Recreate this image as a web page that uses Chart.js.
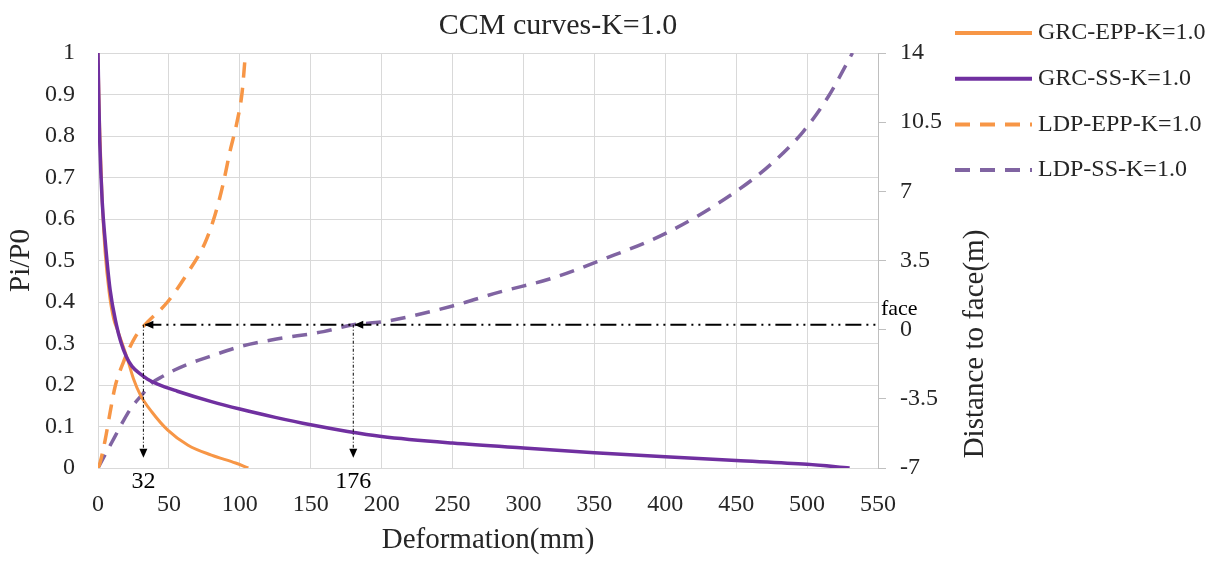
<!DOCTYPE html>
<html lang="en">
<head>
    <meta charset="UTF-8">
    <title>CCM curves-K=1.0</title>
    <style>
        body {
            margin: 0;
            background: #ffffff;
        }
        .wrap {
            width: 1219px;
            height: 562px;
            position: relative;
        }
    </style>
</head>
<body>

<div class="wrap">
    <canvas id="ccm"></canvas>
</div>

<script src="https://cdn.jsdelivr.net/npm/chart.js"></script>
<script>
    // GRC curves (left axis, Pi/P0)
    const grcEppX = [0, 1.2, 3, 5, 8, 11, 14, 21, 25, 30, 38, 49, 63.5, 80, 97, 106];
    const grcEppY = [1, 0.82, 0.64, 0.52, 0.42, 0.36, 0.33, 0.26, 0.215, 0.175, 0.135, 0.092, 0.055, 0.031, 0.012, 0];

    const grcSsX = [0, 0.5, 1.2, 3, 5, 8.5, 13, 16, 20, 24, 30, 35, 42, 56, 80, 100, 125, 150, 176, 200, 250, 300, 350, 400, 450, 500, 530];
    const grcSsY = [1, 0.9, 0.79, 0.64, 0.55, 0.43, 0.345, 0.305, 0.268, 0.245, 0.226, 0.214, 0.202, 0.185, 0.16, 0.142, 0.122, 0.104, 0.088, 0.076, 0.06, 0.048, 0.037, 0.027, 0.018, 0.009, 0];

    // LDP curves (right axis, distance to face in m)
    const ldpEppX = [0, 1.4, 5, 8.5, 12, 17.6, 26, 33, 49, 63.5, 75.5, 82.5, 88, 93, 98, 101.6, 104];
    const ldpEppY = [-7, -6.75, -5.6, -4.2, -2.9, -1.7, -0.4, 0.24, 1.4, 2.9, 4.4, 5.8, 7.3, 9.0, 10.5, 12.0, 14];

    const ldpSsX = [0, 6, 12, 18, 24, 31, 38, 46, 54, 65, 78, 99, 124, 159, 180, 201, 250, 283, 320, 354, 401, 448, 475, 497, 515, 532];
    const ldpSsY = [-7, -6.2, -5.4, -4.6, -3.9, -3.3, -2.7, -2.35, -2.04, -1.7, -1.38, -0.88, -0.5, -0.1, 0.25, 0.4, 1.2, 1.9, 2.6, 3.5, 4.9, 6.9, 8.4, 10, 11.8, 14];

    const seriesNames = ['GRC-EPP-K=1.0', 'GRC-SS-K=1.0', 'LDP-EPP-K=1.0', 'LDP-SS-K=1.0'];

    // face marks: where the LDP curves cross the face
    const faceLevel = 0.25;          // right axis value of the face line
    const faceArrowX = [32, 180];    // deformation where arrows drop
    const faceLabels = ['32', '176'];
    const arrowBottom = 0.025;       // left axis value where the drop arrows end

    const serif = "'Liberation Serif', 'Times New Roman', serif";
    Chart.defaults.font.family = serif;
    Chart.defaults.color = '#262626';

    function pts(xs, ys) {
        return xs.map((x, i) => ({ x: x, y: ys[i] }));
    }

    function arrowHead(ctx, x, y, dir) {
        // small filled triangle, tip at (x, y)
        ctx.beginPath();
        if (dir === 'left') {
            ctx.moveTo(x, y);
            ctx.lineTo(x + 9, y - 4);
            ctx.lineTo(x + 9, y + 4);
        } else {
            ctx.moveTo(x, y);
            ctx.lineTo(x - 4, y - 9);
            ctx.lineTo(x + 4, y - 9);
        }
        ctx.closePath();
        ctx.fill();
    }

    const extras = {
        id: 'extras',
        afterDatasetsDraw(chart) {
            const { ctx, chartArea: a, scales } = chart;
            const x = scales.x, y = scales.y, y2 = scales.y2;
            ctx.save();
            ctx.fillStyle = '#000';
            ctx.strokeStyle = '#000';

            // face line (dash dot dot)
            const fy = y2.getPixelForValue(faceLevel);
            const x0 = x.getPixelForValue(faceArrowX[0]);
            ctx.lineWidth = 2;
            ctx.setLineDash([16, 5, 2, 5, 2, 5]);
            ctx.beginPath();
            ctx.moveTo(x0 + 2, fy);
            ctx.lineTo(a.right, fy);
            ctx.stroke();
            ctx.setLineDash([]);

            const yb = y.getPixelForValue(arrowBottom);
            faceArrowX.forEach((v, i) => {
                const px = x.getPixelForValue(v);
                arrowHead(ctx, px + 1, fy, 'left');
                ctx.lineWidth = 1;
                ctx.setLineDash([3, 2, 1, 2]);
                ctx.beginPath();
                ctx.moveTo(px, fy);
                ctx.lineTo(px, yb - 8);
                ctx.stroke();
                ctx.setLineDash([]);
                arrowHead(ctx, px, yb, 'down');

                ctx.font = '24px ' + serif;
                ctx.textAlign = 'center';
                ctx.textBaseline = 'middle';
                ctx.fillText(faceLabels[i], px, a.bottom + 14);
            });

            ctx.font = '22px ' + serif;
            ctx.textAlign = 'left';
            ctx.textBaseline = 'middle';
            ctx.fillText('face', a.right + 3, fy - 16);
            ctx.restore();
        },
        afterDraw(chart) {
            const { ctx, chartArea: a } = chart;
            ctx.save();
            ctx.fillStyle = '#262626';

            // title
            ctx.font = '30px ' + serif;
            ctx.textAlign = 'center';
            ctx.textBaseline = 'middle';
            ctx.fillText('CCM curves-K=1.0', 558, 26);

            // right axis title, reads bottom to top
            ctx.save();
            ctx.translate(a.right + 97, 344);
            ctx.rotate(-Math.PI / 2);
            ctx.font = '29px ' + serif;
            ctx.fillText('Distance to face(m)', 0, 0);
            ctx.restore();

            // legend
            chart.data.datasets.forEach((ds, i) => {
                const ly = 33 + i * 45.7;
                ctx.strokeStyle = ds.borderColor;
                ctx.lineWidth = 4;
                ctx.setLineDash(ds.borderDash || []);
                ctx.beginPath();
                ctx.moveTo(955, ly);
                ctx.lineTo(1032, ly);
                ctx.stroke();
                ctx.setLineDash([]);
                ctx.font = '24px ' + serif;
                ctx.textAlign = 'left';
                ctx.textBaseline = 'middle';
                ctx.fillStyle = '#262626';
                ctx.fillText(seriesNames[i], 1038, ly);
            });
            ctx.restore();
        }
    };

    const ctx = document.getElementById('ccm').getContext('2d');
    const chart = new Chart(ctx, {
        type: 'line',
        data: {
            datasets: [
                {
                    label: seriesNames[0],
                    data: pts(grcEppX, grcEppY),
                    yAxisID: 'y',
                    borderColor: '#f79646',
                    borderWidth: 3,
                    order: 3
                },
                {
                    label: seriesNames[1],
                    data: pts(grcSsX, grcSsY),
                    yAxisID: 'y',
                    borderColor: '#7030a0',
                    borderWidth: 3.5,
                    order: 1
                },
                {
                    label: seriesNames[2],
                    data: pts(ldpEppX, ldpEppY),
                    yAxisID: 'y2',
                    borderColor: '#f79646',
                    borderWidth: 3.5,
                    borderDash: [15, 10],
                    order: 2
                },
                {
                    label: seriesNames[3],
                    data: pts(ldpSsX, ldpSsY),
                    yAxisID: 'y2',
                    borderColor: '#8064a2',
                    borderWidth: 3.5,
                    borderDash: [15, 10],
                    order: 4
                }
            ]
        },
        options: {
            responsive: true,
            maintainAspectRatio: false,
            animation: false,
            layout: {
                padding: { top: 53, right: 221, left: 0, bottom: 0 }
            },
            elements: {
                point: { radius: 0 },
                line: { cubicInterpolationMode: 'monotone', fill: false }
            },
            plugins: {
                legend: { display: false },
                title: { display: false },
                tooltip: { enabled: false }
            },
            scales: {
                x: {
                    type: 'linear',
                    min: 0,
                    max: 550,
                    ticks: { stepSize: 50, font: { size: 24 }, padding: 22 },
                    grid: { color: '#d9d9d9', drawTicks: false },
                    border: { color: '#d9d9d9' },
                    title: { display: true, text: 'Deformation(mm)', font: { size: 29 }, padding: 4 },
                    afterFit: s => { s.height = 94; }
                },
                y: {
                    position: 'left',
                    min: 0,
                    max: 1,
                    ticks: {
                        stepSize: 0.1,
                        font: { size: 24 },
                        padding: 23,
                        callback: v => String(+v.toFixed(2))
                    },
                    grid: { color: '#d9d9d9', drawTicks: false },
                    border: { display: false },
                    title: { display: true, text: 'Pi/P0', font: { size: 29 }, padding: 4 },
                    afterFit: s => { s.width = 98; }
                },
                y2: {
                    position: 'right',
                    min: -7,
                    max: 14,
                    ticks: { stepSize: 3.5, font: { size: 24 }, padding: 14 },
                    grid: { drawOnChartArea: false, color: '#bfbfbf', tickLength: 8 },
                    border: { display: true, color: '#bfbfbf' },
                    afterFit: s => { s.width = 120; }
                }
            }
        },
        plugins: [extras]
    });
</script>

</body>
</html>
